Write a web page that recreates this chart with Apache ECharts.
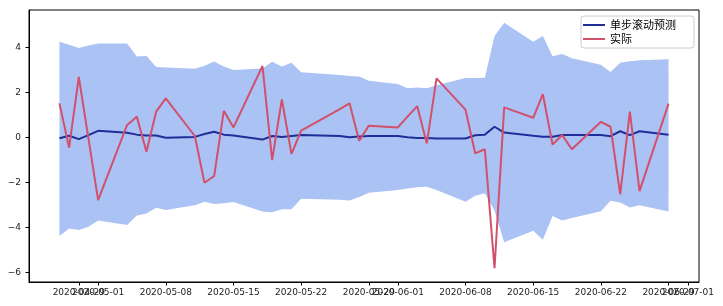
<!DOCTYPE html>
<html>
<head>
<meta charset="utf-8">
<script src="https://cdn.jsdelivr.net/npm/echarts@6/dist/echarts.min.js"></script>
<style>html,body{margin:0;padding:0;background:#fff;}#c{width:723px;height:306px;}</style>
</head>
<body>
<div id="c"></div>
<script>
const dates = ['2020-04-27','2020-04-28','2020-04-29','2020-04-30','2020-05-01',
  '2020-05-04','2020-05-05','2020-05-06','2020-05-07','2020-05-08',
  '2020-05-11','2020-05-12','2020-05-13','2020-05-14','2020-05-15',
  '2020-05-18','2020-05-19','2020-05-20','2020-05-21','2020-05-22',
  '2020-05-26','2020-05-27','2020-05-28','2020-05-29',
  '2020-06-01','2020-06-02','2020-06-03','2020-06-04','2020-06-05',
  '2020-06-08','2020-06-09','2020-06-10','2020-06-11','2020-06-12',
  '2020-06-15','2020-06-16','2020-06-17','2020-06-18','2020-06-19',
  '2020-06-22','2020-06-23','2020-06-24','2020-06-25','2020-06-26',
  '2020-06-29'];
const actual = [1.51,-0.46,2.69,-0.05,-2.79,
  0.55,0.92,-0.64,1.14,1.73,
  0.06,-2.02,-1.72,1.18,0.44,
  3.17,-1.01,1.69,-0.74,0.30,
  1.25,1.51,-0.15,0.52,
  0.44,0.92,1.39,-0.27,2.62,
  1.23,-0.71,-0.53,-5.82,1.33,
  0.87,1.92,-0.32,0.10,-0.53,
  0.69,0.47,-2.52,1.14,-2.39,
  1.50];
const forecast = [-0.04,0.07,-0.08,0.10,0.29,
  0.20,0.12,0.08,0.08,-0.02,
  0.02,0.15,0.25,0.12,0.08,
  -0.10,0.06,0.02,0.06,0.10,
  0.06,0.00,0.04,0.06,
  0.06,0.00,-0.03,-0.03,-0.05,
  -0.05,0.09,0.12,0.47,0.21,
  0.07,0.03,0.03,0.10,0.10,
  0.10,0.05,0.27,0.10,0.27,
  0.12];
const upper = [4.25,4.12,3.97,4.08,4.17,
  4.17,3.59,3.62,3.13,3.10,
  3.05,3.18,3.37,3.15,2.99,
  3.06,3.36,3.15,3.31,2.89,
  2.77,2.73,2.70,2.52,
  2.37,2.18,2.22,2.18,2.32,
  2.64,2.64,2.65,4.50,5.09,
  4.25,4.50,3.60,3.70,3.51,
  3.23,2.90,3.32,3.38,3.43,
  3.47];
const lower = [-4.39,-4.05,-4.12,-3.97,-3.70,
  -3.90,-3.47,-3.38,-3.13,-3.23,
  -3.02,-2.86,-2.96,-2.93,-2.87,
  -3.30,-3.33,-3.20,-3.20,-2.73,
  -2.77,-2.81,-2.65,-2.46,
  -2.34,-2.27,-2.22,-2.20,-2.34,
  -2.86,-2.60,-2.48,-3.25,-4.66,
  -4.15,-4.55,-3.50,-3.70,-3.58,
  -3.28,-2.82,-2.90,-3.12,-3.02,
  -3.30];
const xTickDatesA = ['2020-04-29','2020-05-08','2020-05-15','2020-05-22','2020-05-29',
  '2020-06-01','2020-06-08','2020-06-15','2020-06-22','2020-07-01'];
const xTickDatesB = ['2020-05-01','2020-06-29'];
const yTicks = [-6,-4,-2,0,2,4];
const seriesNames = ['单步滚动预测','实际'];

const DAY = 86400000;
const BASE = Date.UTC(2020,4,1);
function toDay(s){ const p = s.split('-').map(Number); return (Date.UTC(p[0],p[1]-1,p[2]) - BASE)/DAY; }
function fromDay(d){ const t = new Date(BASE + Math.round(d)*DAY);
  const m = String(t.getUTCMonth()+1).padStart(2,'0'), dd = String(t.getUTCDate()).padStart(2,'0');
  return t.getUTCFullYear()+'-'+m+'-'+dd; }
const xs = dates.map(toDay);
const pair = arr => arr.map((v,i)=>[xs[i], v]);
const bandRows = xs.map((x,i)=>[x, lower[i], upper[i]]);

const font = 'DejaVu Sans';
function xAxisDef(tickDates, showLine){
  const t = tickDates.map(toDay);
  return {
    type:'value', min:-7.15, max:62.15, position:'bottom',
    splitLine:{show:false},
    axisLine:{show:showLine, onZero:false, lineStyle:{color:'#000', width:1}},
    axisTick:{show:true, inside:false, length:3.5, customValues:t, lineStyle:{color:'#000'}},
    axisLabel:{customValues:t, formatter:v=>fromDay(v), fontFamily:font, fontSize:9, color:'#222', margin:6,
      showMinLabel:true, showMaxLabel:true, hideOverlap:false}
  };
}
const chart = echarts.init(document.getElementById('c'), null, {renderer:'canvas'});
chart.setOption({
  animation:false,
  backgroundColor:'#fff',
  grid:{left:29, right:24, top:10, bottom:24, show:true, borderColor:'#000', borderWidth:1, backgroundColor:'transparent'},
  legend:{
    data:seriesNames, orient:'vertical', left:581, top:16,
    padding:[2,18,2,2], itemGap:0, itemWidth:22, itemHeight:2, icon:'rect',
    backgroundColor:'#fff', borderColor:'#cccccc', borderWidth:1, borderRadius:3,
    textStyle:{fontFamily:'Noto Sans CJK SC', fontSize:11, color:'#000', lineHeight:14}
  },
  xAxis:[xAxisDef(xTickDatesA, true), xAxisDef(xTickDatesB, false)],
  yAxis:{
    type:'value', min:-6.43, max:5.66,
    splitLine:{show:false},
    axisLine:{show:true, onZero:false, lineStyle:{color:'#000', width:1}},
    axisTick:{show:true, inside:false, length:3.5, customValues:yTicks, lineStyle:{color:'#000'}},
    axisLabel:{customValues:yTicks, formatter:v=>String(v).replace('-','\u2212'), fontFamily:font, fontSize:9, color:'#222', margin:8}
  },
  series:[
    {name:'band', type:'custom', data:bandRows, encode:{x:0, y:[1,2]}, silent:true, z:1,
     renderItem:function(params, api){
       if (params.dataIndex !== 0) return null;
       const top = bandRows.map(r=>api.coord([r[0], r[2]]));
       const bot = bandRows.map(r=>api.coord([r[0], r[1]])).reverse();
       return {type:'polygon', shape:{points:top.concat(bot)}, style:{fill:'#abc2f5', stroke:null}};
     }},
    {name:seriesNames[0], type:'line', data:pair(forecast), symbol:'none', color:'#1f2e99',
     lineStyle:{width:2, color:'#1f2e99'}, z:3},
    {name:seriesNames[1], type:'line', data:pair(actual), symbol:'none', color:'#d2506c',
     lineStyle:{width:2, color:'#d2506c'}, z:4}
  ]
});
</script>
</body>
</html>
